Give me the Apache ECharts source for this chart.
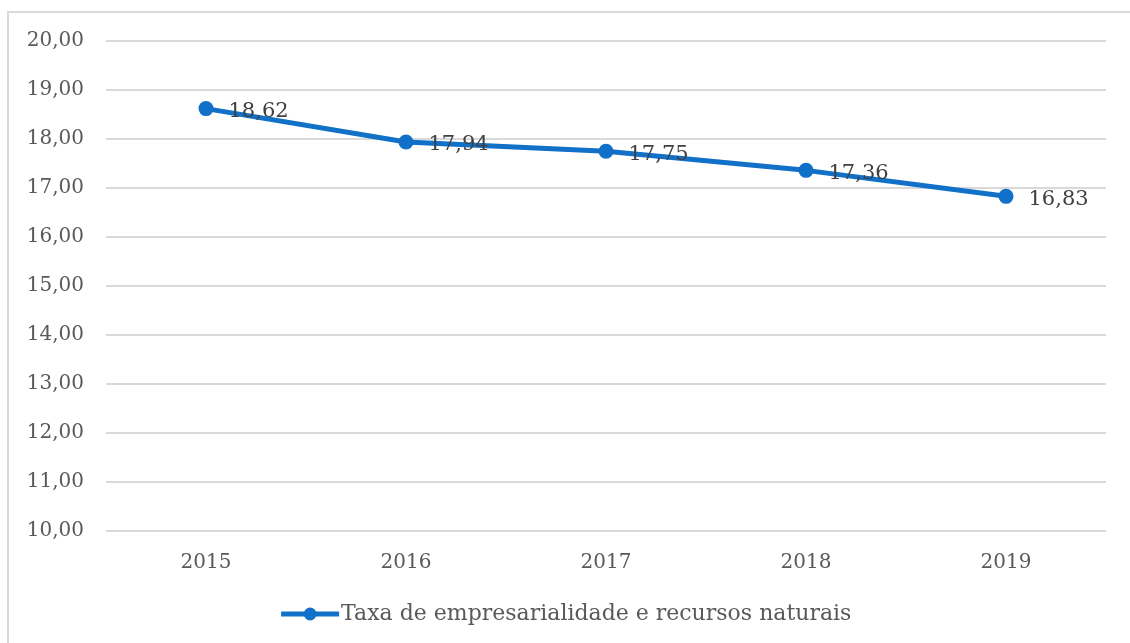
<!DOCTYPE html>
<html>
<head>
<meta charset="utf-8">
<script src="https://cdn.jsdelivr.net/npm/echarts@6/dist/echarts.min.js"></script>
<style>
  html, body { margin: 0; padding: 0; background: #fff; }
  #frame { position: absolute; left: 7px; top: 11px; width: 1130px; height: 640px; border: 2px solid #d9d9d9; box-sizing: border-box; }
  #chart { position: absolute; left: 0; top: 0; width: 1130px; height: 643px; }
</style>
</head>
<body>
<div id="frame"></div>
<div id="chart"></div>
<script>
const years = ['2015', '2016', '2017', '2018', '2019'];
const taxa = [18.62, 17.94, 17.75, 17.36, 16.83];
const seriesName = 'Taxa de empresarialidade e recursos naturais';

const fmt = v => v.toFixed(2).replace('.', ',');
const fontFam = '"DejaVu Serif", "Liberation Serif", serif';

const myChart = echarts.init(document.getElementById('chart'));
const option = {
  animation: false,
  grid: { left: 106, right: 24, top: 41, bottom: 112 },
  legend: {
    bottom: 13,
    left: 'center',
    itemWidth: 58,
    itemHeight: 16,
    itemGap: 0,
    lineStyle: { width: 5 },
    textStyle: { color: '#595959', fontSize: 22, fontFamily: fontFam, padding: [0, 0, 0, -3] },
    data: [seriesName]
  },
  xAxis: {
    type: 'category',
    data: years,
    axisLine: { show: false },
    axisTick: { show: false },
    axisLabel: { color: '#595959', fontSize: 20, fontFamily: fontFam, margin: 22 }
  },
  yAxis: {
    type: 'value',
    min: 10,
    max: 20,
    interval: 1,
    axisLine: { show: false },
    axisTick: { show: false },
    splitLine: { lineStyle: { color: '#d9d9d9', width: 2 } },
    axisLabel: { color: '#595959', fontSize: 20, fontFamily: fontFam, margin: 22, formatter: fmt }
  },
  series: [{
    name: seriesName,
    type: 'line',
    data: taxa,
    symbol: 'circle',
    symbolSize: 15,
    itemStyle: { color: '#1170c8' },
    lineStyle: { color: '#1170c8', width: 5 },
    label: {
      show: true,
      position: 'right',
      distance: 15,
      offset: [0, 3],
      color: '#404040',
      fontSize: 21,
      fontFamily: fontFam,
      formatter: p => fmt(p.value)
    }
  }]
};
myChart.setOption(option);
window.addEventListener('resize', function () { myChart.resize(); });
</script>
</body>
</html>
